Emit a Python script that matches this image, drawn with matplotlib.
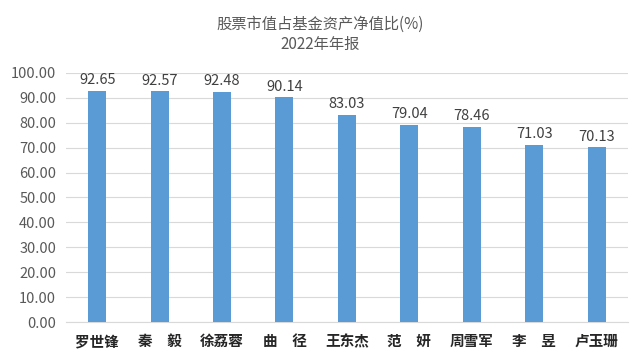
import matplotlib
matplotlib.use("Agg")
import matplotlib.pyplot as plt

plt.rcParams['font.family'] = ['Noto Sans CJK SC', 'DejaVu Sans']

names = ["罗世锋", "秦　毅", "徐荔蓉", "曲　径", "王东杰", "范　妍", "周雪军", "李　昱", "卢玉珊"]
values = [92.65, 92.57, 92.48, 90.14, 83.03, 79.04, 78.46, 71.03, 70.13]
yticks = [0, 10, 20, 30, 40, 50, 60, 70, 80, 90, 100]

fig = plt.figure(figsize=(6.4, 3.61), dpi=100)
ax = fig.add_axes([0.103, 0.108, 0.878, 0.690])
x = list(range(len(names)))
ax.bar(x, values, width=0.29, color="#5B9BD5", zorder=3)
for xi, v in zip(x, values):
    ax.text(xi, v + 1.5, f"{v:.2f}", ha="center", va="bottom", fontsize=10.5, color="#404040")
ax.set_xlim(-0.5, len(names) - 0.5)
ax.set_ylim(0, 100)
ax.set_yticks(yticks)
ax.set_yticklabels([f"{t:.2f}" for t in yticks], fontsize=10.5, color="#595959")
ax.set_xticks(x)
ax.set_xticklabels(names, fontsize=10.5, fontweight="bold", color="#262626")
ax.grid(axis="y", color="#d9d9d9", linewidth=0.8, zorder=0)
for s in ["top", "right", "left"]:
    ax.spines[s].set_visible(False)
ax.spines["bottom"].set_color("#d9d9d9")
ax.tick_params(axis="y", length=0, pad=7)
ax.tick_params(axis="x", length=0, pad=8)
fig.text(0.5, 0.955, "股票市值占基金资产净值比(%)\n2022年年报", ha="center", va="top",
         fontsize=11, color="#595959", linespacing=1.2)
fig.savefig("out.png", dpi=100)
